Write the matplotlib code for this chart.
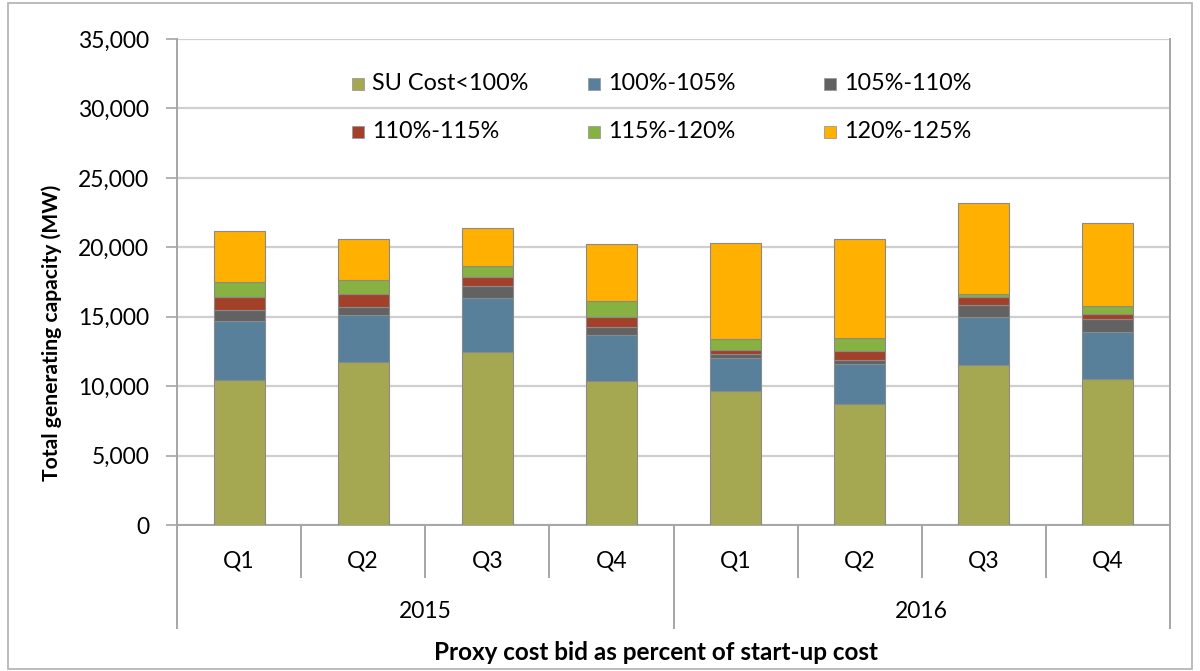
import matplotlib
matplotlib.use("Agg")
import matplotlib.pyplot as plt
import numpy as np
from matplotlib.patches import Rectangle

plt.rcParams['font.family'] = ['Lato', 'DejaVu Sans']

quarters = ['Q1', 'Q2', 'Q3', 'Q4', 'Q1', 'Q2', 'Q3', 'Q4']
years = ['2015', '2016']

series = ['SU Cost<100%', '100%-105%', '105%-110%',
          '110%-115%', '115%-120%', '120%-125%']
su_lt100 = [10420, 11710, 12480, 10340, 9620, 8740, 11540, 10540]
p100_105 = [4250, 3380, 3840, 3310, 2380, 2830, 3430, 3360]
p105_110 = [790, 600, 860, 580, 290, 340, 860, 910]
p110_115 = [980, 910, 700, 740, 290, 620, 600, 380]
p115_120 = [1030, 1010, 770, 1130, 790, 910, 240, 580]
p120_125 = [3720, 2980, 2760, 4150, 6960, 7150, 6530, 6000]
values = [su_lt100, p100_105, p105_110, p110_115, p115_120, p120_125]

colors = ['#A6A851', '#58809A', '#626262', '#A2402A', '#87B140', '#FFB000']

W, H = 1200, 671
fig = plt.figure(figsize=(W / 100, H / 100), dpi=100)
fig.patches.append(Rectangle((8 / W, 2 / H), 1184 / W, 666 / H,
                             transform=fig.transFigure, fill=False,
                             edgecolor='#B0B0B0', linewidth=1.2))

ax = fig.add_axes([177 / W, 1 - 525 / H, (1170 - 177) / W, (525 - 39) / H])

x = np.arange(len(quarters))
bottom = np.zeros(len(quarters))
for name, vals, c in zip(series, values, colors):
    ax.bar(x, vals, width=0.41, bottom=bottom, color=c, label=name,
           edgecolor='#8A8A8A', linewidth=0.8, zorder=3)
    bottom += np.array(vals)

ax.set_xlim(-0.5, len(quarters) - 0.5)
ax.set_ylim(0, 35000)
ax.set_yticks(np.arange(0, 35001, 5000))
ax.set_yticklabels([f'{v:,}' for v in range(0, 35001, 5000)], fontsize=16.5)
ax.yaxis.grid(True, color='#CFCFCF', linewidth=1.6, zorder=0)
ax.tick_params(axis='y', length=8, width=1.2, color='#A6A6A6', pad=12)
ax.set_xticks([])

ax.spines['top'].set_visible(False)
for side in ['left', 'right', 'bottom']:
    ax.spines[side].set_color('#A6A6A6')
    ax.spines[side].set_linewidth(1.4)

# two-level category axis below the plot area
trans = ax.get_xaxis_transform()
ph = 525 - 39
q_depth = -52 / ph
y_depth = -103 / ph
for i in range(len(quarters) + 1):
    bound = i - 0.5
    low = y_depth if i % 4 == 0 else q_depth
    ax.plot([bound, bound], [0, low], transform=trans, color='#A6A6A6',
            linewidth=1.4, clip_on=False)
for i, q in enumerate(quarters):
    ax.text(i, -36 / ph, q, transform=trans, ha='center',
            va='center', fontsize=16.5)
for j, yr in enumerate(years):
    ax.text(j * 4 + 1.5, -87 / ph, yr, transform=trans,
            ha='center', va='center', fontsize=16.5)

fig.text(52 / W, 1 - 333 / H, 'Total generating capacity (MW)',
         rotation=90, ha='center', va='center', fontsize=15.2,
         fontweight='bold')
fig.text(656 / W, 1 - 652 / H, 'Proxy cost bid as percent of start-up cost',
         ha='center', va='center', fontsize=17.5, fontweight='bold')

# legend laid out in two rows of three
col_x = [352, 588, 824]
row_y = [84, 132]
for k, (name, c) in enumerate(zip(series, colors)):
    r, cidx = divmod(k, 3)
    px, py = col_x[cidx], row_y[r]
    fig.patches.append(Rectangle((px / W, 1 - (py + 6) / H), 12 / W, 12 / H,
                                 transform=fig.transFigure, facecolor=c,
                                 edgecolor='#9A9A9A', linewidth=0.6))
    fig.text((px + 20) / W, 1 - py / H, name, ha='left', va='center',
             fontsize=16.8)

fig.savefig('out.png', dpi=100)
